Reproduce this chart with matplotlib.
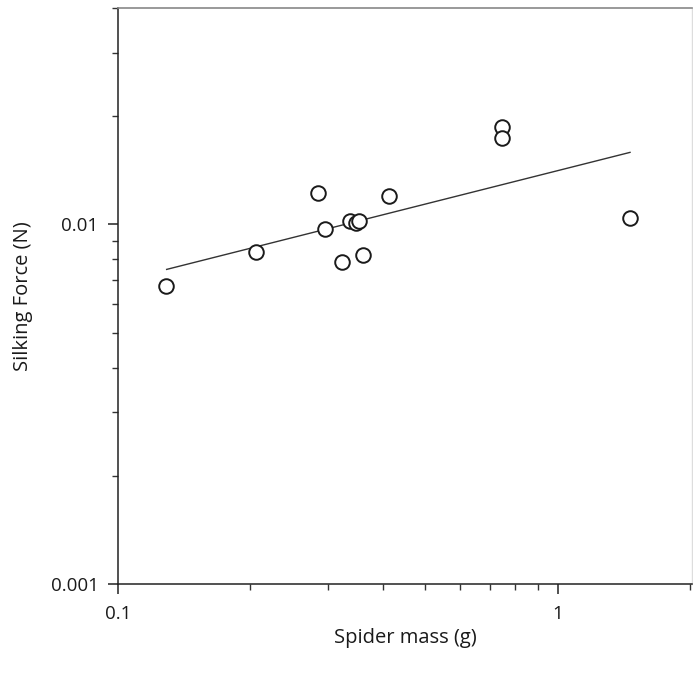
import numpy as np
import matplotlib
matplotlib.use('Agg')
from matplotlib import pyplot as plt
from matplotlib.ticker import LogLocator, FixedLocator, NullFormatter, FixedFormatter

plt.rcParams['font.family'] = ['Open Sans', 'DejaVu Sans']

# spider mass (g) and silking force (N)
mass = [0.1285, 0.206, 0.285, 0.295, 0.323, 0.337, 0.347, 0.353, 0.360, 0.413, 0.746, 0.746, 1.458]
force = [0.00676, 0.00836, 0.0122, 0.00969, 0.00784, 0.0102, 0.0101, 0.0102, 0.00825, 0.01197, 0.01863, 0.01736, 0.0104]

# fitted power-law line, end points
fit_x = [0.129, 1.46]
fit_y = [0.00750, 0.01587]

fig = plt.figure(figsize=(6.93, 6.75), dpi=100)
ax = fig.add_axes((0.1703, 0.1348, 0.8283, 0.8533))

ax.plot(fit_x, fit_y, color='#333333', lw=1.0, zorder=2)
ax.plot(mass, force, linestyle='none', marker='o', markersize=10.5,
        markerfacecolor='white', markeredgecolor='#1a1a1a', markeredgewidth=1.4, zorder=3)

ax.set_xscale('log')
ax.set_yscale('log')
ax.set_xlim(0.1, 2.02)
ax.set_ylim(0.001, 0.04)

ax.xaxis.set_major_locator(FixedLocator([0.1, 1]))
ax.xaxis.set_major_formatter(FixedFormatter(['0.1', '1']))
ax.xaxis.set_minor_locator(LogLocator(base=10, subs=np.arange(2, 10)))
ax.xaxis.set_minor_formatter(NullFormatter())
ax.yaxis.set_major_locator(FixedLocator([0.001, 0.01]))
ax.yaxis.set_major_formatter(FixedFormatter(['0.001', '0.01']))
ax.yaxis.set_minor_locator(LogLocator(base=10, subs=np.arange(2, 10)))
ax.yaxis.set_minor_formatter(NullFormatter())

ax.tick_params(which='major', direction='out', length=7, width=1.1, color='#222222',
               labelsize=13.5, labelcolor='#1a1a1a')
ax.tick_params(axis='x', which='major', pad=8)
ax.tick_params(axis='y', which='major', pad=7)
ax.tick_params(which='minor', direction='out', length=4, width=1.0, color='#333333')

for s in ['left', 'bottom']:
    ax.spines[s].set_color('#222222')
    ax.spines[s].set_linewidth(1.1)
ax.spines['top'].set_color('#888888')
ax.spines['top'].set_linewidth(1.2)
ax.spines['right'].set_color('#dddddd')
ax.spines['right'].set_linewidth(1.0)

ax.set_xlabel('Spider mass (g)', fontsize=14.5, color='#1a1a1a', labelpad=4)
ax.set_ylabel('Silking Force (N)', fontsize=14.5, color='#1a1a1a', labelpad=13)

fig.savefig('out.png', dpi=100)
